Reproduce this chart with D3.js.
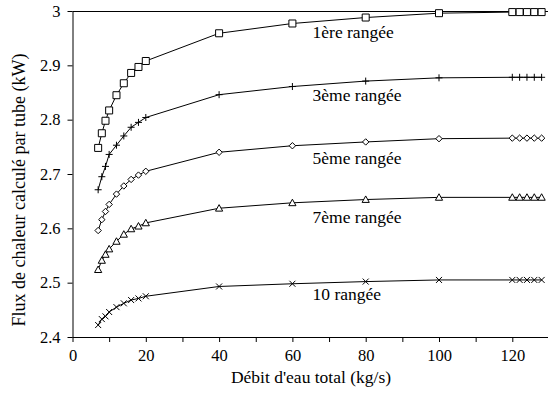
<!DOCTYPE html>
<html>
<head>
<meta charset="utf-8">
<script src="https://cdn.jsdelivr.net/npm/d3@7"></script>
<style>
  html, body { margin: 0; padding: 0; background: #fff; }
  svg { display: block; font-family: "Liberation Serif", "DejaVu Serif", serif; }
</style>
</head>
<body>
<svg id="chart" width="548" height="396"></svg>
<script>
// Total water flow rate (kg/s)
const flow = [7, 8, 9, 10, 12, 14, 16, 18, 20, 40, 60, 80, 100, 120, 122, 124, 126, 128];

// Computed heat flux per tube (kW), one array per tube row
const row1 = [2.748, 2.775, 2.798, 2.817, 2.845, 2.867, 2.886, 2.897, 2.908, 2.959, 2.977, 2.988, 2.996, 2.998, 2.998, 2.998, 2.998, 2.998];
const row3 = [2.671, 2.695, 2.714, 2.736, 2.753, 2.770, 2.786, 2.795, 2.804, 2.846, 2.861, 2.871, 2.877, 2.878, 2.878, 2.878, 2.878, 2.878];
const row5 = [2.596, 2.616, 2.631, 2.644, 2.663, 2.678, 2.690, 2.698, 2.705, 2.740, 2.752, 2.759, 2.765, 2.766, 2.766, 2.766, 2.766, 2.766];
const row7 = [2.524, 2.541, 2.552, 2.562, 2.576, 2.589, 2.599, 2.604, 2.610, 2.637, 2.647, 2.653, 2.657, 2.657, 2.657, 2.657, 2.657, 2.657];
const row10 = [2.422, 2.433, 2.438, 2.446, 2.455, 2.462, 2.468, 2.471, 2.475, 2.493, 2.498, 2.502, 2.505, 2.505, 2.505, 2.505, 2.505, 2.505];

const seriesNames = ["1ère rangée", "3ème rangée", "5ème rangée", "7ème rangée", "10 rangée"];
const seriesValues = [row1, row3, row5, row7, row10];
const seriesMarkers = ["square", "plus", "diamond", "triangle", "cross"];

// Where each series name is written, in data units (flow, flux at baseline)
const labelFlow = [65.5, 65.5, 65.5, 65.5, 65.5];
const labelFlux = [2.951, 2.834, 2.719, 2.610, 2.468];

const xTicks = [0, 20, 40, 60, 80, 100, 120];
const xMinorTicks = d3.range(0, 131, 10);
const yTicks = [2.4, 2.5, 2.6, 2.7, 2.8, 2.9, 3];

const xTitle = "Débit d'eau total (kg/s)";
const yTitle = "Flux de chaleur calculé par tube (kW)";

const serif = "Liberation Serif, DejaVu Serif, serif";
const svg = d3.select("#chart");
const plotLeft = 72.5, plotTop = 11, plotBottom = 337;

const x = d3.scaleLinear().domain([0, 130]).range([plotLeft, plotLeft + 130 * (73.3 / 20)]);
const y = d3.scaleLinear().domain([2.4, 3]).range([plotBottom, plotTop]);

// Plot frame: top edge
svg.append("line")
  .attr("x1", plotLeft).attr("x2", 548)
  .attr("y1", plotTop + 0.5).attr("y2", plotTop + 0.5)
  .attr("stroke", "#000").attr("stroke-width", 1);

// X axis: ticks every 10, labels every 20
const xAxis = d3.axisBottom(x).tickValues(xMinorTicks).tickSize(5).tickSizeOuter(0)
  .tickFormat(d => xTicks.includes(d) ? d3.format("d")(d) : "");
const gx = svg.append("g").attr("transform", `translate(0,${plotBottom})`).call(xAxis);
gx.attr("font-family", serif);
gx.select(".domain").attr("d", `M${plotLeft},0.5H548`);
gx.selectAll("text").attr("font-size", 16.5).attr("dy", "0.95em").attr("fill", "#000");

// Y axis
const yAxis = d3.axisLeft(y).tickValues(yTicks).tickSize(5).tickSizeOuter(0)
  .tickFormat(d => d === 3 ? "3" : d3.format(".1f")(d));
const gy = svg.append("g").attr("transform", `translate(${plotLeft},0)`).call(yAxis);
gy.attr("font-family", serif);
gy.selectAll("text").attr("font-size", 16.5).attr("x", -12).attr("fill", "#000");

// Axis titles
svg.append("text")
  .attr("x", 311).attr("y", 383)
  .attr("text-anchor", "middle")
  .attr("font-size", 17.5)
  .text(xTitle);

svg.append("text")
  .attr("transform", `translate(25,190) rotate(-90)`)
  .attr("text-anchor", "middle")
  .attr("font-size", 18)
  .text(yTitle);

// Marker shapes
const markerPath = {
  square: s => `M${-s},${-s}H${s}V${s}H${-s}Z`,
  plus: s => `M${-s},0H${s}M0,${-s}V${s}`,
  diamond: s => `M0,${-s}L${s},0L0,${s}L${-s},0Z`,
  triangle: s => `M0,${-s}L${s},${s * 0.8}L${-s},${s * 0.8}Z`,
  cross: s => `M${-s},${-s}L${s},${s}M${s},${-s}L${-s},${s}`
};
const markerSize = { square: 3.5, plus: 3.5, diamond: 3.2, triangle: 3.6, cross: 3 };

const line = d3.line().x(d => x(d[0])).y(d => y(d[1]));

seriesValues.forEach((vals, i) => {
  const pts = flow.map((f, j) => [f, vals[j]]);
  const g = svg.append("g");
  g.append("path")
    .attr("d", line(pts))
    .attr("fill", "none")
    .attr("stroke", "#000")
    .attr("stroke-width", 1);
  const m = seriesMarkers[i];
  g.selectAll("path.mk").data(pts).join("path")
    .attr("class", "mk")
    .attr("transform", d => `translate(${x(d[0])},${y(d[1])})`)
    .attr("d", markerPath[m](markerSize[m]))
    .attr("fill", m === "plus" || m === "cross" ? "none" : "#fff")
    .attr("stroke", "#000")
    .attr("stroke-width", 1);
  svg.append("text")
    .attr("x", x(labelFlow[i]))
    .attr("y", y(labelFlux[i]))
    .attr("font-size", 17.5)
    .text(seriesNames[i]);
});
</script>
</body>
</html>
